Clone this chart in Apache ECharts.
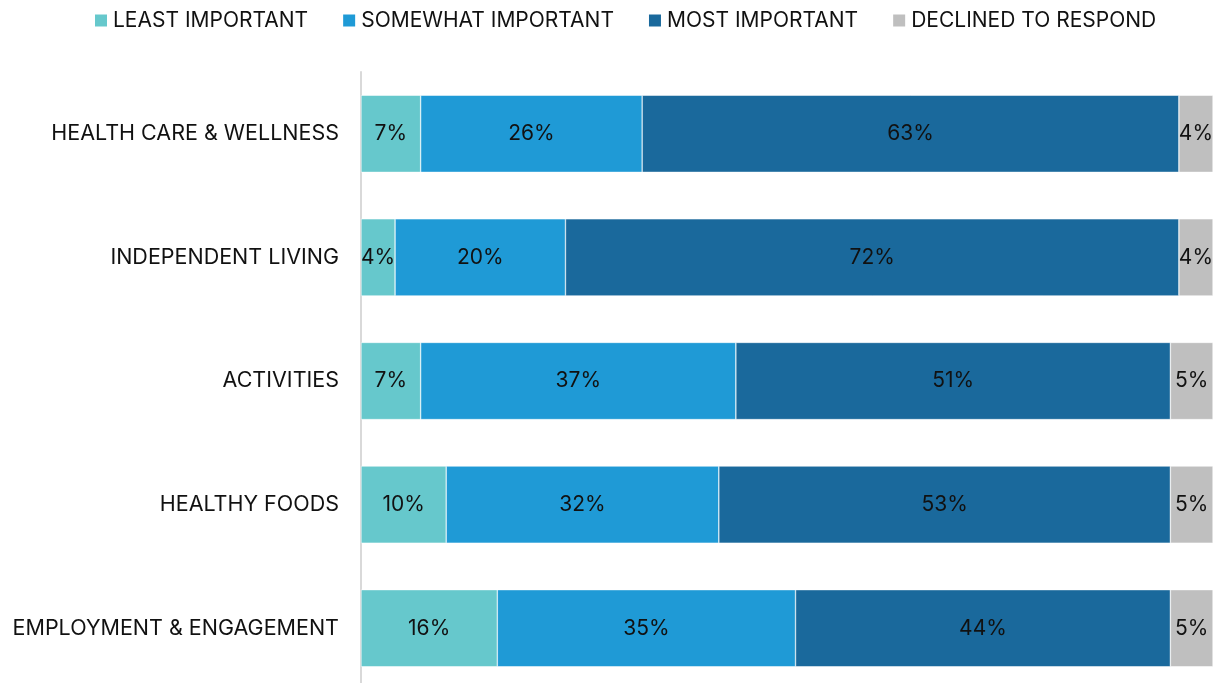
<!DOCTYPE html>
<html><head><meta charset="utf-8">
<script src="https://cdn.jsdelivr.net/npm/echarts@6/dist/echarts.min.js"></script>
<style>html,body{margin:0;padding:0;background:#fff}#c{width:1217px;height:683px}</style>
</head><body><div id="c"></div>
<script>
const categories = ["HEALTH CARE & WELLNESS","INDEPENDENT LIVING","ACTIVITIES","HEALTHY FOODS","EMPLOYMENT & ENGAGEMENT"];
const seriesNames = ["LEAST IMPORTANT","SOMEWHAT IMPORTANT","MOST IMPORTANT","DECLINED TO RESPOND"];
const leastImportant = [7,4,7,10,16];
const somewhatImportant = [26,20,37,32,35];
const mostImportant = [63,72,51,53,44];
const declined = [4,4,5,5,5];
const colors = ["#66C8CC","#1F9AD6","#1A699C","#BFBFBF"];
const FONT = "Inter";
const values = [leastImportant, somewhatImportant, mostImportant, declined];
const chart = echarts.init(document.getElementById('c'));
chart.setOption({
  animation:false,
  textStyle:{fontFamily:FONT},
  legend:{top:5,left:88,itemWidth:14,itemHeight:14,itemGap:33,icon:'rect',
    textStyle:{fontSize:21,color:'#111',fontFamily:FONT},
    data:seriesNames},
  grid:{left:361,width:852,top:72,height:618,containLabel:false,outerBoundsMode:'none'},
  xAxis:{type:'value',min:0,max:100,show:false},
  yAxis:{type:'category',data:categories,inverse:true,
    axisLine:{show:true,lineStyle:{color:'#D9D9D9',width:2}},
    axisTick:{show:false},
    axisLabel:{fontSize:21.5,color:'#111',fontFamily:FONT,margin:22}},
  series: seriesNames.map((n,i)=>({
    name:n,type:'bar',stack:'t',barCategoryGap:'37.6%',
    data:values[i],
    itemStyle:{color:colors[i],borderColor:'#fff',borderWidth:0.5},
    label:{show:true,position:'inside',formatter:p=>p.value+'%',fontSize:21,color:'#111',fontFamily:FONT}
  }))
});
</script></body></html>
